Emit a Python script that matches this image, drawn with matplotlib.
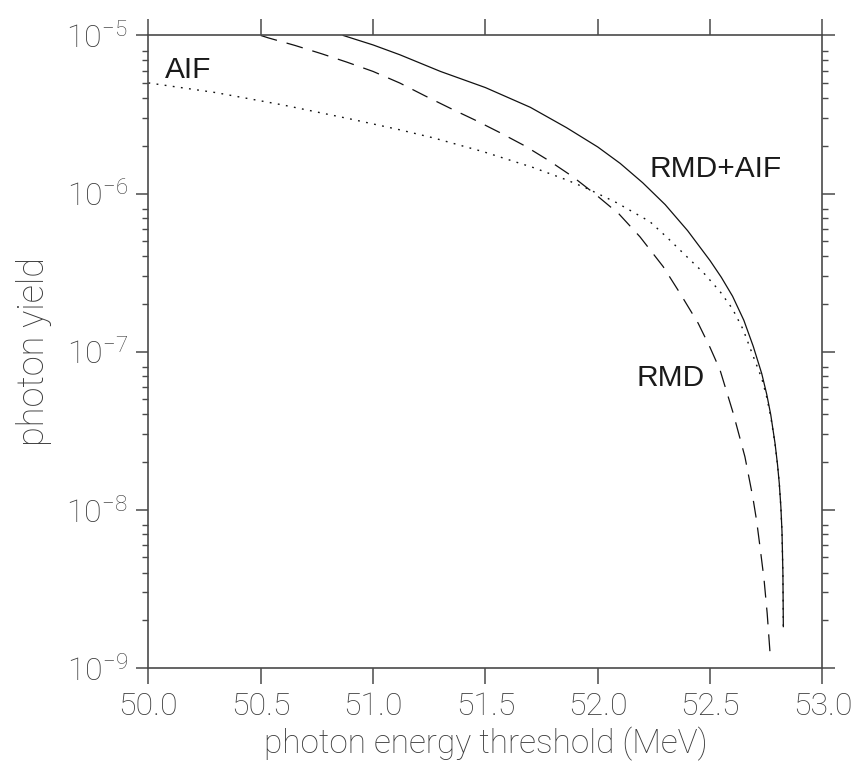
import math
import matplotlib
matplotlib.use("Agg")
import matplotlib.pyplot as plt
from matplotlib import font_manager
from matplotlib.ticker import LogLocator, FixedLocator, NullFormatter, FuncFormatter

# --- photon yield above threshold -------------------------------------------
# RMD + AIF (total)
total_e = [50.867, 51.0, 51.119, 51.3, 51.5, 51.7, 51.861, 52.0, 52.1, 52.2,
           52.3, 52.4, 52.5, 52.55, 52.6, 52.65, 52.692, 52.73, 52.752, 52.77,
           52.789, 52.80, 52.808, 52.815, 52.82, 52.824, 52.826]
total_y = [1.00e-5, 8.71e-6, 7.55e-6, 5.92e-6, 4.68e-6, 3.51e-6, 2.61e-6, 1.97e-6,
           1.55e-6, 1.17e-6, 8.51e-7, 5.82e-7, 3.76e-7, 2.95e-7, 2.24e-7, 1.58e-7,
           1.08e-7, 7.24e-8, 5.37e-8, 3.98e-8, 2.63e-8, 1.93e-8, 1.46e-8, 1.04e-8,
           7.24e-9, 3.98e-9, 1.82e-9]

# radiative muon decay
rmd_e = [50.50, 50.533, 50.652, 50.771, 50.882, 51.0, 51.119, 51.231, 51.342,
         51.453, 51.564, 51.676, 51.784, 51.888, 51.992, 52.095, 52.188, 52.291,
         52.366, 52.447, 52.50, 52.544, 52.603, 52.655, 52.69, 52.707, 52.722,
         52.74, 52.754, 52.769]
rmd_y = [1.00e-5, 9.66e-6, 8.65e-6, 7.66e-6, 6.79e-6, 5.92e-6, 5.00e-6, 4.15e-6,
         3.47e-6, 2.92e-6, 2.43e-6, 2.00e-6, 1.61e-6, 1.28e-6, 9.82e-7, 7.41e-7,
         5.32e-7, 3.45e-7, 2.34e-7, 1.51e-7, 1.06e-7, 7.66e-8, 4.07e-8, 2.16e-8,
         1.20e-8, 8.51e-9, 5.83e-9, 3.63e-9, 2.21e-9, 1.12e-9]

# annihilation in flight
aif_e = [50.0, 50.3, 50.6, 50.9, 51.119, 51.268, 51.49, 51.713, 51.861, 51.95,
         52.084, 52.232, 52.31, 52.396, 52.47, 52.544, 52.6, 52.647, 52.692,
         52.73, 52.752, 52.77, 52.789, 52.80, 52.808, 52.815, 52.82, 52.824, 52.826]
aif_y = [5.01e-6, 4.35e-6, 3.63e-6, 2.96e-6, 2.53e-6, 2.25e-6, 1.84e-6, 1.46e-6,
         1.22e-6, 1.08e-6, 8.75e-7, 6.64e-7, 5.25e-7, 3.99e-7, 3.16e-7, 2.40e-7,
         1.86e-7, 1.38e-7, 9.33e-8, 6.76e-8, 5.15e-8, 3.87e-8, 2.60e-8, 1.93e-8,
         1.46e-8, 1.03e-8, 7.16e-9, 3.89e-9, 1.78e-9]

x_ticks = [50.0, 50.5, 51.0, 51.5, 52.0, 52.5, 53.0]
y_decades = [1e-9, 1e-8, 1e-7, 1e-6, 1e-5]

curve_labels = [("AIF", 50.073, 5.4e-6),
                ("RMD+AIF", 52.229, 1.28e-6),
                ("RMD", 52.173, 6.07e-8)]

# --- fonts ------------------------------------------------------------------
available = {f.name for f in font_manager.fontManager.ttflist}
thin_font = "Roboto" if "Roboto" in available else "DejaVu Sans"
label_font = "Liberation Sans" if "Liberation Sans" in available else "DejaVu Sans"

plt.rcParams["mathtext.fontset"] = "custom"
plt.rcParams["mathtext.rm"] = f"{thin_font}:light"
plt.rcParams["mathtext.it"] = f"{thin_font}:light"
plt.rcParams["mathtext.bf"] = f"{thin_font}:light"
plt.rcParams["mathtext.sf"] = f"{thin_font}:light"

gray = "#3c3c3c"
axis_gray = "#4a4a4a"

fig = plt.figure(figsize=(8.63, 7.66), dpi=100)
ax = fig.add_axes([0.172, 0.1283, 0.781, 0.8254])

ax.plot(total_e, total_y, color="#111111", lw=0.9, ls="-")
ax.plot(rmd_e, rmd_y, color="#111111", lw=0.9, ls=(0, (13.5, 8)))
ax.plot(aif_e, aif_y, color="#111111", lw=1.0, ls=(0, (1.3, 4.6)))

ax.set_yscale("log")
ax.set_xlim(50.0, 53.0)
ax.set_ylim(1e-9, 1e-5)

ax.xaxis.set_major_locator(FixedLocator(x_ticks))
ax.xaxis.set_major_formatter(FuncFormatter(lambda v, p: f"{v:.1f}"))
ax.yaxis.set_major_locator(FixedLocator(y_decades))
ax.yaxis.set_minor_locator(LogLocator(base=10, subs=(2, 3, 4, 5, 6, 7, 8)))
ax.yaxis.set_minor_formatter(NullFormatter())
ax.yaxis.set_major_formatter(
    FuncFormatter(lambda v, p: r"$\mathrm{10}^{\mathrm{-%d}}$" % round(-math.log10(v))))

for s in ax.spines.values():
    s.set_color(axis_gray)
    s.set_linewidth(1.2)

ax.tick_params(axis="x", which="major", direction="out", length=11.5, width=1.1,
               color=axis_gray, top=True, labeltop=False, pad=6,
               labelsize=23, labelcolor=gray)
ax.tick_params(axis="y", which="major", direction="out", length=9, width=1.1,
               color=axis_gray, right=True, labelright=False, pad=6,
               labelsize=23, labelcolor=gray)
ax.tick_params(axis="y", which="minor", direction="out", length=4.5, width=1.0,
               color=axis_gray, right=True)
for lab in ax.get_xticklabels() + ax.get_yticklabels():
    lab.set_fontfamily(thin_font)
    lab.set_fontweight("light")

ax.set_xlabel("photon energy threshold (MeV)", fontsize=24, color=gray,
              family=thin_font, fontweight="light", labelpad=4)
ax.set_ylabel("photon yield", fontsize=26, color=gray, family=thin_font,
              fontweight="light", labelpad=10)

for txt, ex, ey in curve_labels:
    ax.text(ex, ey, txt, fontsize=21.5, color="#1a1a1a", family=label_font,
            va="baseline", ha="left")

fig.savefig("out.png", dpi=100)
